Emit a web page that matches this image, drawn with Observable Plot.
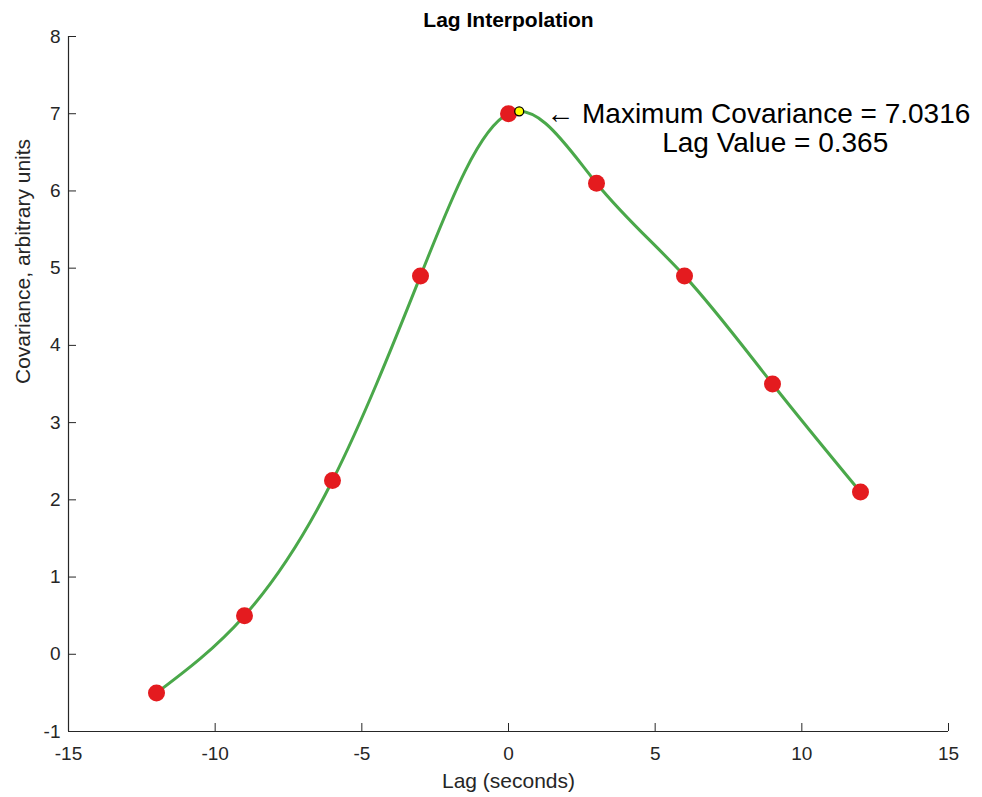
<!DOCTYPE html>
<html>
<head>
<meta charset="utf-8">
<script src="https://cdn.jsdelivr.net/npm/d3@7"></script>
<script src="https://cdn.jsdelivr.net/npm/@observablehq/plot@0.6"></script>
<style>
  html, body { margin: 0; padding: 0; background: #fff; }
  #chart { width: 982px; height: 797px; }
</style>
</head>
<body>
<div id="chart"></div>
<script>
// ---- data ----
const lags = [-12, -9, -6, -3, 0, 3, 6, 9, 12];
const covariance = [-0.5, 0.5, 2.25, 4.9, 7.0, 6.1, 4.9, 3.5, 2.1];
const peakLag = 0.365;
const peakCov = 7.0316;
const xTicks = [-15, -10, -5, 0, 5, 10, 15];
const yTicks = [-1, 0, 1, 2, 3, 4, 5, 6, 7, 8];
const titleText = "Lag Interpolation";
const xLabel = "Lag (seconds)";
const yLabel = "Covariance, arbitrary units";
const annotLine1 = "\u2190 Maximum Covariance = " + peakCov;
const annotLine2 = "Lag Value = " + peakLag;

const points = lags.map((x, i) => ({x, y: covariance[i]}));
const peak = [{x: peakLag, y: peakCov}];

const font = "'Liberation Sans', Arial, Helvetica, sans-serif";
const axisColor = "#262626";

const chart = Plot.plot({
  width: 982,
  height: 797,
  marginLeft: 68,
  marginRight: 34,
  marginTop: 36,
  marginBottom: 66,
  style: {fontFamily: font, fontSize: "19px", color: axisColor, background: "#fff"},
  x: {domain: [-15, 15], label: null},
  y: {domain: [-1, 8], label: null},
  marks: [
    Plot.ruleX([-15], {stroke: axisColor, strokeWidth: 1.2}),
    Plot.ruleY([-1], {stroke: axisColor, strokeWidth: 1.2}),
    Plot.axisX({ticks: xTicks, tickSize: -8, tickPadding: 23, tickFormat: d => String(d).replace("\u2212", "-"), fontSize: 19, fill: axisColor, stroke: axisColor}),
    Plot.axisY({ticks: yTicks, tickSize: -8, tickPadding: 16, tickFormat: d => String(d), fontSize: 19, fill: axisColor, stroke: axisColor}),
    Plot.line(points, {x: "x", y: "y", curve: "natural", stroke: "#4aa84a", strokeWidth: 3}),
    Plot.dot(points, {x: "x", y: "y", r: 8.5, fill: "#e41b1f", stroke: "none"}),
    Plot.dot(peak, {x: "x", y: "y", r: 4.5, fill: "#ffff00", stroke: "#000", strokeWidth: 1.3}),
    Plot.text(peak, {x: "x", y: "y", text: () => annotLine1, textAnchor: "start", lineAnchor: "middle", dx: 27, dy: 3, fontSize: 28, fill: "#000"}),
    Plot.text(peak, {x: "x", y: "y", text: () => annotLine2, textAnchor: "start", lineAnchor: "middle", dx: 143, dy: 32, fontSize: 28, fill: "#000"}),
    Plot.text([titleText], {frameAnchor: "top", dy: -16, lineAnchor: "middle", fontSize: 21, fontWeight: "bold", fill: "#000"}),
    Plot.text([xLabel], {frameAnchor: "bottom", dy: 50, lineAnchor: "middle", fontSize: 21, fill: axisColor}),
    Plot.text([yLabel], {frameAnchor: "left", dx: -45, rotate: -90, lineAnchor: "middle", fontSize: 21, fill: axisColor})
  ]
});
document.getElementById("chart").append(chart);
</script>
</body>
</html>
